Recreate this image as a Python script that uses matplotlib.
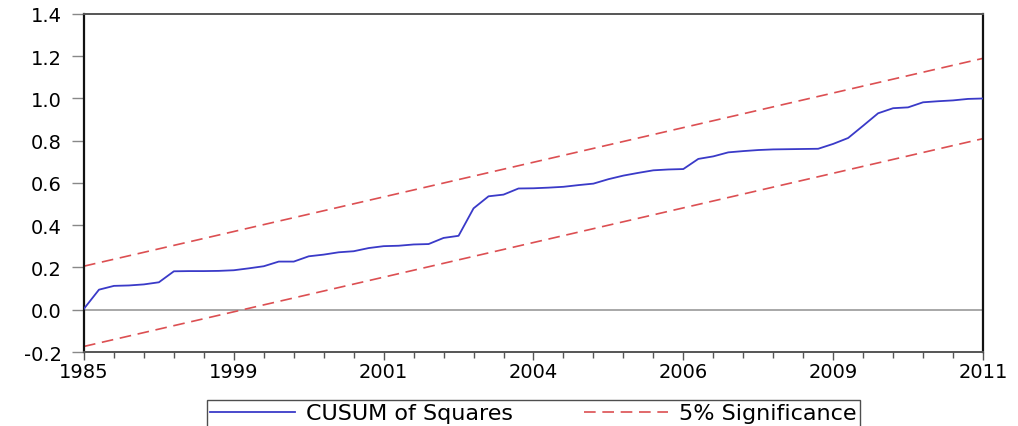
import numpy as np
import matplotlib
matplotlib.use("Agg")
import matplotlib.pyplot as plt
from matplotlib.ticker import MultipleLocator, FormatStrFormatter

plt.rcParams['font.family'] = ['DejaVu Sans']
plt.rcParams['axes.unicode_minus'] = False

# CUSUM of squares, one value per recursive residual
cusum_sq = [0.005, 0.095, 0.113, 0.115, 0.120, 0.130, 0.182, 0.183, 0.183, 0.184,
            0.187, 0.196, 0.206, 0.228, 0.228, 0.253, 0.261, 0.272, 0.277, 0.292,
            0.301, 0.303, 0.309, 0.311, 0.340, 0.350, 0.480, 0.537, 0.545, 0.574,
            0.575, 0.578, 0.582, 0.590, 0.597, 0.618, 0.635, 0.648, 0.660, 0.664,
            0.666, 0.714, 0.726, 0.745, 0.751, 0.756, 0.759, 0.760, 0.761, 0.762,
            0.785, 0.813, 0.871, 0.930, 0.954, 0.958, 0.982, 0.987, 0.991, 0.998,
            1.000]
# 5% critical value for the bands
c0 = 0.19
tick_pos = [0, 10, 20, 30, 40, 50, 60]
tick_labels = ['1985', '1999', '2001', '2004', '2006', '2009', '2011']

n = len(cusum_sq)
x = np.arange(n)
expected = (x + 1) / n
upper = expected + c0
lower = expected - c0

fig = plt.figure(figsize=(10.18, 4.27), dpi=100)
ax = fig.add_axes([0.0825, 0.1733, 0.8831, 0.7916])

ax.axhline(0, color='#999999', lw=1.2, zorder=1)
ax.plot(x, cusum_sq, color='#3a3ac8', lw=1.3, label='CUSUM of Squares', zorder=3)
ax.plot(x, upper, color='#dc4f52', lw=1.2, ls=(0, (7, 4)), label='5% Significance', zorder=2)
ax.plot(x, lower, color='#dc4f52', lw=1.2, ls=(0, (7, 4)), zorder=2)

ax.set_xlim(0, n - 1)
ax.set_ylim(-0.2, 1.4)
ax.yaxis.set_major_locator(MultipleLocator(0.2))
ax.yaxis.set_major_formatter(FormatStrFormatter('%.1f'))
ax.set_xticks(tick_pos)
ax.set_xticklabels(tick_labels)
ax.xaxis.set_minor_locator(MultipleLocator(2))

ax.tick_params(axis='y', direction='out', length=9, width=1, color='#888888',
               labelsize=14, pad=7)
ax.tick_params(axis='x', which='major', direction='out', length=6, width=1,
               color='#555555', labelsize=14, pad=1)
ax.tick_params(axis='x', which='minor', direction='out', length=4, width=1,
               color='#555555')

for side in ['left', 'right']:
    ax.spines[side].set_color('#111111')
    ax.spines[side].set_linewidth(1.6)
for side in ['top', 'bottom']:
    ax.spines[side].set_color('#555555')
    ax.spines[side].set_linewidth(1.4)

leg = fig.legend(loc='upper center', bbox_to_anchor=(0.524, 0.061), ncol=2,
                 fontsize=16, frameon=True, fancybox=False, handlelength=3.8,
                 handletextpad=0.5, columnspacing=3.2, borderpad=0.15,
                 borderaxespad=0)
leg.get_frame().set_edgecolor('#222222')
leg.get_frame().set_linewidth(1.0)

fig.savefig('out.png', dpi=100)
